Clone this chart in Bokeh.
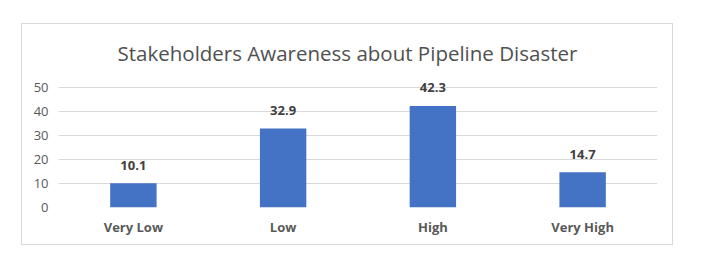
from bokeh.plotting import figure
from bokeh.models import ColumnDataSource, LabelSet, FixedTicker
from bokeh.core.properties import value
from bokeh.embed import file_html
from bokeh.resources import INLINE

categories = ["Very Low", "Low", "High", "Very High"]
values = [10.1, 32.9, 42.3, 14.7]
labels = ["10.1", "32.9", "42.3", "14.7"]
y_ticks = [0, 10, 20, 30, 40, 50]

FONT = "Open Sans"
source = ColumnDataSource(data=dict(cat=categories, val=values, lab=labels))

p = figure(x_range=categories, y_range=(0, 55), width=652, height=222,
           output_backend="svg", toolbar_location=None,
           title="Stakeholders Awareness about Pipeline Disaster",
           min_border_left=36, min_border_right=17, min_border_top=51, min_border_bottom=39,
           margin=(23, 0, 0, 21),
           styles={"border": "1px solid #d9d9d9"})

p.vbar(x="cat", top="val", width=0.31, source=source, color="#4472C4", line_color=None)

p.add_layout(LabelSet(x="cat", y="val", text="lab", source=source, text_align="center",
                      text_baseline="alphabetic", y_offset=13.5, text_font=value(FONT),
                      text_font_size=value("13px"), text_font_style=value("bold"),
                      text_color=value("#404040")))

p.title.align = "left"
p.title.offset = 59
p.title.vertical_align = "top"
p.title.text_font = FONT
p.title.text_font_size = "20.5px"
p.title.text_font_style = "normal"
p.title.text_color = "#505050"
p.title.standoff = 14

p.outline_line_color = None
p.xgrid.grid_line_color = None
p.ygrid.grid_line_color = "#d9d9d9"
p.ygrid.grid_line_width = 1
p.yaxis.ticker = FixedTicker(ticks=y_ticks)

for ax in (p.xaxis, p.yaxis):
    ax.axis_line_color = None
    ax.major_tick_line_color = None
    ax.minor_tick_line_color = None
    ax.major_tick_out = 0
    ax.major_label_text_font = FONT
    ax.major_label_text_font_size = "13px"
    ax.major_label_text_color = "#595959"

p.xaxis.major_label_text_font_style = "bold"
p.xaxis.major_label_standoff = 10
p.yaxis.major_label_standoff = 10
p.x_range.range_padding = 0

open("out.html", "w").write(file_html(p, INLINE))
